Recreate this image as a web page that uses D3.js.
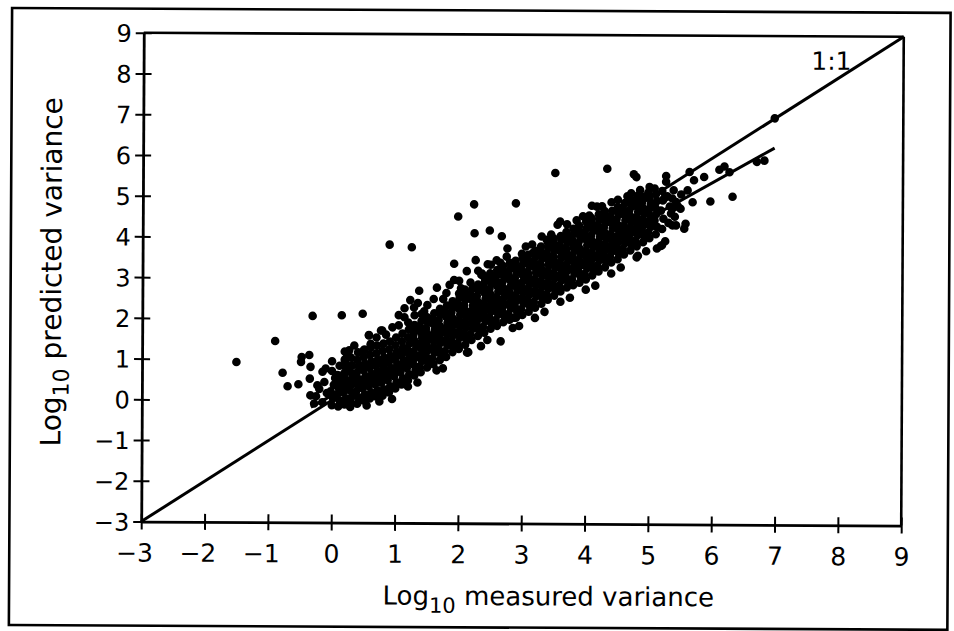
<!DOCTYPE html>
<html><head><meta charset="utf-8">
<script src="https://cdn.jsdelivr.net/npm/d3@7"></script>
<style>body{margin:0;background:#fff}svg{display:block}</style>
</head><body>
<svg id="c" width="954" height="631"></svg>
<script>
// ---- data ----
const xTicks = [-3,-2,-1,0,1,2,3,4,5,6,7,8,9];
const yTicks = [-3,-2,-1,0,1,2,3,4,5,6,7,8,9];
const oneToOne = [[-3,-3],[9,9]];
const fitLine = [[-0.33,-0.17],[6.97,6.25]];
const outlierPts = [
[-1.51,0.93],[-0.90,1.45],[-0.78,0.67],[-0.70,0.34],[-0.53,0.39],[-0.49,0.94],[-0.48,1.06],[-0.36,1.11],[-0.34,0.82],[-0.35,0.53],[-0.34,0.12],[-0.23,0.37],[-0.15,0.70],[-0.10,0.78],[0.0,0.96],[0.11,0.49],[0.19,0.61],[0.22,0.90],[0.24,1.11],[0.27,1.23],[-0.31,2.07],[0.15,2.09],[0.48,2.13],[0.50,1.23],[0.58,1.60],[0.79,1.72],[0.61,1.39],[0.95,0.04],[0.45,0.86],[0.29,-0.16],
[2.23,4.83],[1.98,4.53],[2.24,4.12],[2.48,4.19],[0.90,3.83],[1.25,3.77],[1.92,3.37],[2.26,3.46],[2.45,3.36],[2.59,3.46],[2.12,3.19],[1.92,2.97],[2.03,2.77],[2.18,2.91],[1.37,2.70],[1.65,2.78],[1.23,2.47],[1.14,2.27],[1.29,2.29],[1.41,2.13],[1.14,2.05],[0.77,1.72],[0.58,1.61],[0.61,1.37],
[2.89,4.86],[2.67,4.05],[2.76,3.75],[3.16,3.64],[2.36,3.13],[2.66,1.47],[2.13,1.19],[2.87,2.05],
[3.51,5.61],[4.33,5.72],[4.75,5.59],[4.79,5.52],[5.26,5.55],[5.26,5.41],[5.0,5.28],[4.71,5.12],[4.50,4.96],[4.09,4.81],[4.17,4.79],[4.05,4.57],[3.59,4.42],[3.55,4.34],[3.38,3.97],[4.82,3.59],[5.18,3.83],[5.12,3.77],[5.36,4.75],[5.42,4.34],
[6.97,6.98],[6.69,5.91],[6.81,5.94],[6.18,5.79],[6.10,5.71],[6.26,5.65],[5.86,5.53],[5.63,5.65],[5.70,5.45],[5.96,4.93],[6.31,5.05],[5.23,5.0],[5.36,5.0],[5.42,4.91],[5.49,4.75],[5.57,4.38],[5.36,4.34],[5.55,4.26],[5.20,3.85],[5.34,4.63],[5.68,4.91],
[1.2,0.35],[1.65,0.75],[2.15,1.2],[2.45,1.5],[2.95,1.85],[3.35,2.2],[3.75,2.55],[4.15,2.85],[4.55,3.3],[4.95,3.7],
[1.05,1.85],[1.45,2.2],[1.75,2.5],[2.35,3.1],[2.65,3.4],[3.15,3.85],[3.45,4.1],[3.85,4.45],[4.25,4.8],[4.65,5.05],
[0.7,1.55],[0.85,1.62],[0.95,1.8],[1.05,2.1],[1.3,2.1],[1.35,2.4],[1.5,2.35],[1.6,2.5],[1.8,2.65],[1.85,2.85],[2.0,2.95],[2.3,3.2],[2.5,3.35],[2.75,3.55],[3.05,3.8],[3.3,4.05],[3.7,4.35],[3.95,4.55],[4.4,4.9],[4.85,5.2],[0.35,1.35],[0.2,1.2],
[0.55,-0.12],[0.75,-0.02],[1.35,0.45],[1.75,0.8],[2.35,1.35],[2.85,1.8],[3.2,2.05],[3.6,2.45],[4.0,2.75],[4.4,3.15],[4.8,3.55],[5.25,3.95],
[5.4,4.55],[5.45,4.8],[5.5,5.1],[5.6,5.2],[5.38,5.2]
];
const bandPts = [
[-0.28,-0.08],[-0.25,0.1],[-0.2,0.28],[-0.15,-0.05],[-0.12,0.45],[-0.08,0.18],
[0.0,-0.12],[0.02,0.05],[-0.02,0.22],[0.03,0.38],[0.05,0.55],[0.0,0.72],
[0.1,-0.15],[0.12,0.0],[0.08,0.15],[0.11,0.3],[0.13,0.48],[0.09,0.62],[0.12,0.85],
[0.2,-0.1],[0.22,0.05],[0.18,0.2],[0.21,0.35],[0.23,0.5],[0.19,0.66],[0.22,0.8],[0.2,1.0],
[0.3,-0.05],[0.32,0.1],[0.28,0.25],[0.31,0.4],[0.33,0.56],[0.29,0.7],[0.32,0.86],[0.3,1.05],
[0.4,-0.08],[0.42,0.08],[0.38,0.22],[0.41,0.38],[0.43,0.52],[0.39,0.68],[0.42,0.84],[0.4,1.0],[0.41,1.18],
[0.5,0.0],[0.52,0.15],[0.48,0.3],[0.51,0.45],[0.53,0.6],[0.49,0.75],[0.52,0.9],[0.5,1.06],[0.51,1.25],
[0.6,0.05],[0.62,0.2],[0.58,0.35],[0.61,0.5],[0.63,0.65],[0.59,0.8],[0.62,0.96],[0.6,1.12],[0.61,1.3],
[0.7,0.1],[0.72,0.25],[0.68,0.4],[0.71,0.55],[0.73,0.7],[0.69,0.85],[0.72,1.0],[0.7,1.16],[0.71,1.35],
[0.8,0.12],[0.82,0.28],[0.78,0.44],[0.81,0.6],[0.83,0.75],[0.79,0.9],[0.82,1.06],[0.8,1.22],[0.81,1.4],
[0.9,0.2],[0.92,0.35],[0.88,0.5],[0.91,0.65],[0.93,0.8],[0.89,0.95],[0.92,1.1],[0.9,1.26],[0.91,1.45],
[1.0,0.3],[1.02,0.45],[0.98,0.6],[1.01,0.75],[1.03,0.9],[0.99,1.05],[1.02,1.2],[1.0,1.36],[1.01,1.55],
[1.1,0.4],[1.12,0.55],[1.08,0.7],[1.11,0.85],[1.13,1.0],[1.09,1.15],[1.12,1.3],[1.1,1.46],[1.11,1.65],
[1.2,0.5],[1.22,0.65],[1.18,0.8],[1.21,0.95],[1.23,1.1],[1.19,1.25],[1.22,1.4],[1.2,1.56],[1.21,1.75],[1.2,1.92],
[1.3,0.62],[1.32,0.76],[1.28,0.9],[1.31,1.05],[1.29,1.18],[1.33,1.33],[1.3,1.47],[1.28,1.6],[1.32,1.74],[1.3,1.86],
[1.4,0.7],[1.38,0.84],[1.42,0.98],[1.4,1.12],[1.41,1.27],[1.39,1.4],[1.42,1.55],[1.4,1.68],[1.38,1.82],[1.41,1.96],
[1.5,0.82],[1.52,0.95],[1.48,1.1],[1.51,1.24],[1.49,1.37],[1.52,1.5],[1.5,1.65],[1.48,1.78],[1.51,1.92],[1.5,2.05],
[1.6,0.9],[1.58,1.04],[1.62,1.18],[1.6,1.32],[1.61,1.46],[1.59,1.6],[1.62,1.74],[1.6,1.88],[1.58,2.01],[1.61,2.15],
[1.7,1.0],[1.72,1.14],[1.68,1.28],[1.71,1.42],[1.69,1.56],[1.72,1.7],[1.7,1.84],[1.68,1.98],[1.71,2.12],[1.7,2.26],
[1.8,1.08],[1.78,1.22],[1.82,1.36],[1.8,1.5],[1.81,1.64],[1.79,1.78],[1.82,1.92],[1.8,2.06],[1.78,2.2],[1.81,2.34],
[1.9,1.2],[1.92,1.33],[1.88,1.47],[1.91,1.61],[1.89,1.75],[1.92,1.89],[1.9,2.03],[1.88,2.17],[1.91,2.31],[1.9,2.45],
[2.0,1.28],[1.98,1.42],[2.02,1.56],[2.0,1.7],[2.01,1.84],[1.99,1.98],[2.02,2.12],[2.0,2.26],[1.98,2.4],[2.01,2.54],[2.0,2.64],
[2.1,1.38],[2.12,1.52],[2.08,1.66],[2.11,1.8],[2.09,1.94],[2.12,2.08],[2.1,2.22],[2.08,2.36],[2.11,2.5],[2.1,2.64],[2.09,2.74],
[2.2,1.5],[2.18,1.64],[2.22,1.78],[2.2,1.92],[2.21,2.06],[2.19,2.2],[2.22,2.34],[2.2,2.48],[2.18,2.62],[2.21,2.76],
[2.3,1.6],[2.32,1.74],[2.28,1.88],[2.31,2.02],[2.29,2.16],[2.32,2.3],[2.3,2.44],[2.28,2.58],[2.31,2.72],[2.3,2.86],
[2.4,1.68],[2.38,1.82],[2.42,1.96],[2.4,2.1],[2.41,2.24],[2.39,2.38],[2.42,2.52],[2.4,2.66],[2.38,2.8],[2.41,2.94],[2.4,3.04],
[2.5,1.78],[2.52,1.92],[2.48,2.06],[2.51,2.2],[2.49,2.34],[2.52,2.48],[2.5,2.62],[2.48,2.76],[2.51,2.9],[2.5,3.04],[2.49,3.14],
[2.6,1.85],[2.58,1.99],[2.62,2.13],[2.6,2.27],[2.61,2.41],[2.59,2.55],[2.62,2.69],[2.6,2.83],[2.58,2.97],[2.61,3.11],[2.6,3.22],
[2.7,1.94],[2.72,2.08],[2.68,2.22],[2.71,2.36],[2.69,2.5],[2.72,2.64],[2.7,2.78],[2.68,2.92],[2.71,3.06],[2.7,3.2],[2.69,3.32],
[2.8,2.0],[2.78,2.14],[2.82,2.28],[2.8,2.42],[2.81,2.56],[2.79,2.7],[2.82,2.84],[2.8,2.98],[2.78,3.12],[2.81,3.26],[2.8,3.4],
[2.9,2.05],[2.92,2.19],[2.88,2.33],[2.91,2.47],[2.89,2.61],[2.92,2.75],[2.9,2.89],[2.88,3.03],[2.91,3.17],[2.9,3.31],[2.89,3.45],
[3.0,2.12],[2.98,2.26],[3.02,2.4],[3.0,2.54],[3.01,2.68],[2.99,2.82],[3.02,2.96],[3.0,3.1],[2.98,3.24],[3.01,3.38],[3.0,3.52],[2.99,3.62],
[3.1,2.2],[3.12,2.34],[3.08,2.48],[3.11,2.62],[3.09,2.76],[3.12,2.9],[3.1,3.04],[3.08,3.18],[3.11,3.32],[3.1,3.46],[3.09,3.6],
[3.2,2.3],[3.18,2.44],[3.22,2.58],[3.2,2.72],[3.21,2.86],[3.19,3.0],[3.22,3.14],[3.2,3.28],[3.18,3.42],[3.21,3.56],[3.2,3.7],
[3.3,2.4],[3.32,2.54],[3.28,2.68],[3.31,2.82],[3.29,2.96],[3.32,3.1],[3.3,3.24],[3.28,3.38],[3.31,3.52],[3.3,3.66],[3.29,3.8],
[3.4,2.5],[3.38,2.64],[3.42,2.78],[3.4,2.92],[3.41,3.06],[3.39,3.2],[3.42,3.34],[3.4,3.48],[3.38,3.62],[3.41,3.76],[3.4,3.9],
[3.5,2.6],[3.52,2.74],[3.48,2.88],[3.51,3.02],[3.49,3.16],[3.52,3.3],[3.5,3.44],[3.48,3.58],[3.51,3.72],[3.5,3.86],[3.49,4.0],
[3.6,2.7],[3.58,2.84],[3.62,2.98],[3.6,3.12],[3.61,3.26],[3.59,3.4],[3.62,3.54],[3.6,3.68],[3.58,3.82],[3.61,3.96],[3.6,4.06],
[3.7,2.8],[3.72,2.94],[3.68,3.08],[3.71,3.22],[3.69,3.36],[3.72,3.5],[3.7,3.64],[3.68,3.78],[3.71,3.92],[3.7,4.06],[3.69,4.16],
[3.8,2.86],[3.78,3.0],[3.82,3.14],[3.8,3.28],[3.81,3.42],[3.79,3.56],[3.82,3.7],[3.8,3.84],[3.78,3.98],[3.81,4.12],[3.8,4.24],
[3.9,2.92],[3.92,3.06],[3.88,3.2],[3.91,3.34],[3.89,3.48],[3.92,3.62],[3.9,3.76],[3.88,3.9],[3.91,4.04],[3.9,4.18],[3.89,4.32],
[4.0,3.0],[3.98,3.14],[4.02,3.28],[4.0,3.42],[4.01,3.56],[3.99,3.7],[4.02,3.84],[4.0,3.98],[3.98,4.12],[4.01,4.26],[4.0,4.42],
[4.1,3.1],[4.12,3.24],[4.08,3.38],[4.11,3.52],[4.09,3.66],[4.12,3.8],[4.1,3.94],[4.08,4.08],[4.11,4.22],[4.1,4.36],[4.09,4.5],
[4.2,3.2],[4.18,3.34],[4.22,3.48],[4.2,3.62],[4.21,3.76],[4.19,3.9],[4.22,4.04],[4.2,4.18],[4.18,4.32],[4.21,4.46],[4.2,4.6],
[4.3,3.3],[4.32,3.44],[4.28,3.58],[4.31,3.72],[4.29,3.86],[4.32,4.0],[4.3,4.14],[4.28,4.28],[4.31,4.42],[4.3,4.56],[4.29,4.68],
[4.4,3.42],[4.38,3.56],[4.42,3.7],[4.4,3.84],[4.41,3.98],[4.39,4.12],[4.42,4.26],[4.4,4.4],[4.38,4.54],[4.41,4.68],
[4.5,3.5],[4.52,3.64],[4.48,3.78],[4.51,3.92],[4.49,4.06],[4.52,4.2],[4.5,4.34],[4.48,4.48],[4.51,4.62],[4.5,4.78],
[4.6,3.62],[4.58,3.76],[4.62,3.9],[4.6,4.04],[4.61,4.18],[4.59,4.32],[4.62,4.46],[4.6,4.6],[4.58,4.74],[4.61,4.88],
[4.7,3.72],[4.72,3.86],[4.68,4.0],[4.71,4.14],[4.69,4.28],[4.72,4.42],[4.7,4.56],[4.68,4.7],[4.71,4.84],[4.7,4.96],
[4.8,3.82],[4.78,3.96],[4.82,4.1],[4.8,4.24],[4.81,4.38],[4.79,4.52],[4.82,4.66],[4.8,4.8],[4.78,4.94],[4.81,5.06],
[4.9,3.92],[4.92,4.06],[4.88,4.2],[4.91,4.34],[4.89,4.48],[4.92,4.62],[4.9,4.76],[4.88,4.9],[4.91,5.04],
[5.0,4.02],[4.98,4.16],[5.02,4.3],[5.0,4.44],[5.01,4.58],[4.99,4.72],[5.02,4.86],[5.0,5.0],[4.98,5.14],
[5.1,4.12],[5.12,4.3],[5.08,4.46],[5.11,4.62],[5.09,4.78],[5.12,4.94],[5.1,5.1],[5.08,5.24],
[5.2,4.25],[5.22,4.5],[5.18,4.7],[5.21,4.95],[5.2,5.18],
[5.3,4.4],[5.32,4.8],[5.28,5.05]
];

// ---- drawing ----
const svg = d3.select('#c');
const root = svg.append('g').attr('transform','rotate(0.3,477,315)');
const FONT = '"DejaVu Sans", sans-serif';
const DOT_R = 4.3;

root.append('rect').attr('x',10.5).attr('y',10.4).attr('width',938.5).attr('height',617)
  .attr('fill','none').attr('stroke','#000').attr('stroke-width',2.6);

const x = d3.scaleLinear().domain([-3,9]).range([142.3,902.3]);
const y = d3.scaleLinear().domain([-3,9]).range([523.3,34.5]);

// frame top/right
root.append('line').attr('x1',x(-3)).attr('x2',x(9)).attr('y1',y(9)).attr('y2',y(9)).attr('stroke','#000').attr('stroke-width',2.6);
root.append('line').attr('x1',x(9)).attr('x2',x(9)).attr('y1',y(9)).attr('y2',y(-3)).attr('stroke','#000').attr('stroke-width',2.6);

const fmt = d=>d<0?'\u2212'+Math.abs(d):String(d);
const xAx = root.append('g').attr('transform',`translate(0,${y(-3)})`)
  .call(d3.axisBottom(x).tickValues(xTicks).tickSize(8).tickSizeOuter(0).tickFormat(fmt));
xAx.select('.domain').attr('stroke-width',2.8);
xAx.selectAll('.tick line').attr('y1',-8).attr('y2',8).attr('stroke-width',2);
xAx.selectAll('.tick text').attr('y',40).attr('dy',0).attr('font-size',25).attr('font-family',FONT).attr('fill','#000');
xAx.selectAll('.tick').filter(d=>d<0).select('text').attr('dx',-7);

const yAx = root.append('g').attr('transform',`translate(${x(-3)},0)`)
  .call(d3.axisLeft(y).tickValues(yTicks).tickSize(8).tickSizeOuter(0).tickFormat(fmt));
yAx.select('.domain').attr('stroke-width',2.8);
yAx.selectAll('.tick line').attr('x1',-8).attr('x2',8).attr('stroke-width',2);
yAx.selectAll('.tick text').attr('x',-12).attr('dy','0.36em').attr('font-size',24).attr('font-family',FONT).attr('fill','#000');

const line = d3.line().x(d=>x(d[0])).y(d=>y(d[1]));
root.append('path').datum(oneToOne).attr('d',line).attr('stroke','#000').attr('stroke-width',3).attr('fill','none');
root.append('path').datum(fitLine).attr('d',line).attr('stroke','#000').attr('stroke-width',3).attr('fill','none');

const dots = root.append('g');
dots.selectAll('circle.b').data(bandPts).join('circle').attr('class','b')
  .attr('cx',d=>x(d[0])).attr('cy',d=>y(d[1])).attr('r',DOT_R).attr('fill','#000');
dots.selectAll('circle.o').data(outlierPts).join('circle').attr('class','o')
  .attr('cx',d=>x(d[0])).attr('cy',d=>y(d[1])).attr('r',DOT_R).attr('fill','#000');

root.append('text').attr('x',810).attr('y',68).attr('font-size',25).attr('font-family',FONT).text('1:1');

// axis titles
const xt = root.append('text').attr('x',384).attr('y',605).attr('font-size',26).attr('font-family',FONT);
xt.append('tspan').text('Log');
xt.append('tspan').attr('dy',8).attr('font-size',21).text('10');
xt.append('tspan').attr('dy',-8).text(' measured variance');

const yt = root.append('text').attr('transform','translate(61,274) rotate(-90)')
  .attr('text-anchor','middle').attr('font-size',28).attr('font-family',FONT);
yt.append('tspan').text('Log');
yt.append('tspan').attr('dy',8).attr('font-size',22).text('10');
yt.append('tspan').attr('dy',-8).text(' predicted variance');
</script>
</body></html>
